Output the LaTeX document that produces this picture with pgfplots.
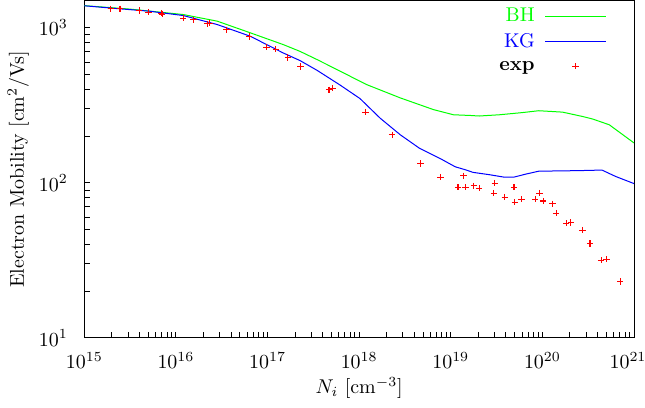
\documentclass[border=0pt]{standalone}
\usepackage{pgfplots}
\pgfplotsset{compat=1.18}
\definecolor{gpgreen}{RGB}{0,255,0}
\definecolor{gpblue}{RGB}{0,0,255}
\definecolor{gpred}{RGB}{255,0,0}
\pgfplotsset{
  lineleg/.style={legend image code/.code={\draw[mark repeat=2,mark phase=2,##1] plot coordinates {(0bp,0bp) (15.25bp,0bp) (30.5bp,0bp)};}},
}
\begin{document}
\begin{tikzpicture}
\path[use as bounding box] (-42.15bp,-35bp) rectangle (280.35bp,169bp);
\begin{axis}[
  scale only axis,
  width=274.85bp, height=168.75bp,
  xmode=log, ymode=log,
  xmin=1e15, xmax=1e21,
  ymin=10, ymax=1500,
  xtick={1e15,1e16,1e17,1e18,1e19,1e20,1e21},
  xticklabels={$10^{15}$,$10^{16}$,$10^{17}$,$10^{18}$,$10^{19}$,$10^{20}$,\hspace*{-6bp}$10^{21}$},
  ytick={10,100,1000},
  minor tick num=0,
  minor xtick={}, minor ytick={},
  xtick pos=bottom, ytick pos=left,
  major tick length=3bp,
  tick style={black, line width=0.5bp},
  axis line style={line width=0.5bp},
  xticklabel style={yshift=-3.7pt},
  yticklabel style={xshift=-4.8pt},
  xlabel={$N_i$ [cm$^{-3}$]},
  ylabel={Electron Mobility [cm$^2$/Vs]},
  xlabel style={at={(axis description cs:0.5,0)}, yshift=-25bp, anchor=center},
  ylabel style={at={(axis description cs:-0.1201,0.5)}, anchor=center},
  legend style={draw=none, fill=none, inner sep=0pt, at={(axis description cs:0.951,0.992)}, anchor=north east,
    nodes={inner ysep=2.2pt}, row sep=0pt, column sep=3pt},
  legend cell align=right,
  legend plot pos=right,
]
\addplot[gpgreen, line width=0.5bp, lineleg] coordinates {
(1e15,1390) (3.16e15,1320) (1.20e16,1218) (2.82e16,1104) (6.46e16,929) (1.48e17,780)
(2.26e17,705) (3.47e17,624) (5.25e17,552) (1.20e18,431) (2.82e18,353) (6.46e18,297)
(1.07e19,275) (1.66e19,272) (2.04e19,270) (3.39e19,275) (6.03e19,284) (9.12e19,292)
(1.66e20,286) (2.75e20,268) (3.55e20,258) (5.37e20,237) (1e21,181)
};
\addlegendentry{\textcolor{gpgreen}{BH}\vphantom{B}}
\addplot[gpblue, line width=0.5bp, lineleg] coordinates {
(1e15,1387) (2.40e15,1327) (5.13e15,1280) (1.20e16,1200) (2.82e16,1050) (6.46e16,883)
(1.48e17,689) (2.26e17,615) (3.47e17,532) (6.17e17,428) (1.02e18,350) (1.70e18,261)
(2.82e18,204) (4.57e18,167) (7.59e18,144) (1.12e19,127) (1.48e19,121) (1.74e19,117)
(2.63e19,113) (3.80e19,109) (4.90e19,109) (6.61e19,114) (9.12e19,119) (2.51e20,120)
(4.47e20,121) (6.31e20,110) (1e21,99)
};
\addlegendentry{\textcolor{gpblue}{KG}\vphantom{B}}
\addplot[only marks, mark=+, mark size=1.6bp, gpred, mark options={line width=0.55bp}, lineleg] coordinates {
(1.95e15,1327) (2.45e15,1327) (3.98e15,1293) (5.01e15,1263) (6.92e15,1244) (7.08e15,1225)
(1.20e16,1155) (1.55e16,1127) (2.19e16,1061) (2.34e16,1072) (3.55e16,971) (6.31e16,879)
(9.77e16,750) (1.23e17,729) (1.66e17,643) (2.29e17,562) (4.68e17,398) (5.13e17,408)
(1.17e18,286) (2.29e18,204) (4.68e18,133) (7.76e18,109) (1.38e19,111) (1.20e19,93.8)
(1.45e19,93.8) (1.78e19,95.7) (2.04e19,92.5) (3.02e19,99.6) (2.95e19,85.9) (3.89e19,80.9)
(4.90e19,93.8) (5.01e19,75.0) (5.89e19,78.5) (8.32e19,78.5) (9.33e19,85.9) (1.02e20,76.5)
(1.29e20,73.2) (1.41e20,63.7) (1.82e20,54.9) (2.04e20,55.7) (2.75e20,49.6) (3.31e20,40.6)
(4.37e20,31.7) (5.01e20,32.2) (7.08e20,23.2)
};
\addlegendentry{\textbf{exp}\rule{0pt}{5.6pt}}
\end{axis}
\end{tikzpicture}
\end{document}
